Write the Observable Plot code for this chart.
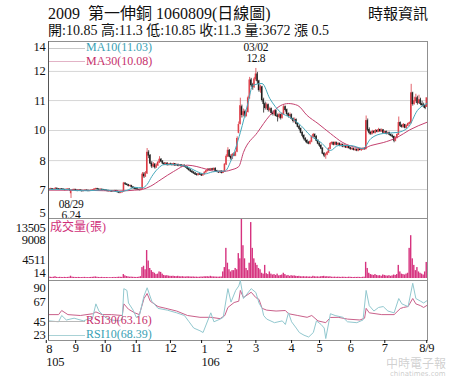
<!DOCTYPE html>
<html><head><meta charset="utf-8">
<script src="https://cdn.jsdelivr.net/npm/d3@7"></script>
<script src="https://cdn.jsdelivr.net/npm/@observablehq/plot@0.6"></script>
<style>
body{margin:0;background:#fff;}
#wrap{position:relative;width:474px;height:379px;overflow:hidden;background:#fff;font-family:'Liberation Serif','Noto Sans CJK TC',serif;color:#111;}
.abs{position:absolute;white-space:pre;}
.lg{position:absolute;height:0;border-top:1px solid;}
</style></head><body>
<div id="wrap">
<div class="abs" style="left:48px;top:6px;font-size:16px;line-height:16px;">2009  第一伸銅 1060809(日線圖)</div>
<div class="abs" style="left:368px;top:5px;font-size:15px;line-height:15px;font-family:'Noto Sans CJK TC',serif;">時報資訊</div>
<div class="abs" id="sub" style="left:48px;top:24px;font-size:14px;line-height:14px;"></div>
<div id="price" class="abs" style="left:0;top:41px"></div>
<div id="vol" class="abs" style="left:0;top:218px"></div>
<div id="rsi" class="abs" style="left:0;top:280px"></div>
<div class="lg" style="left:49px;top:48px;width:36px;border-color:#c8c8c8"></div>
<div class="lg" style="left:49px;top:61px;width:36px;border-color:#e2b3c6"></div>
<div class="abs" id="lgMA10" style="left:86px;top:41px;font-size:12px;line-height:12px;color:#3a9fb4"></div>
<div class="abs" id="lgMA30" style="left:86px;top:55px;font-size:12px;line-height:12px;color:#c6306c"></div>
<div class="abs" style="left:50px;top:221px;font-size:12px;line-height:12px;color:#d0307a">成交量(張)</div>
<div class="lg" style="left:49px;top:321px;width:36px;border-color:#b9b9b9"></div>
<div class="lg" style="left:49px;top:335px;width:36px;border-color:#a9d2d6"></div>
<div class="abs" id="lgR30" style="left:86px;top:314px;font-size:12px;line-height:12px;color:#c6306c"></div>
<div class="abs" id="lgR10" style="left:86px;top:328px;font-size:12px;line-height:12px;color:#3a9fb4"></div>
<div class="abs" style="left:48px;top:41px;width:0;height:299px;border-left:1px solid #555"></div>
<div class="abs" style="left:386px;top:357px;font-size:12px;line-height:12px;font-family:'Noto Sans CJK TC',sans-serif;color:rgba(150,150,150,0.45)">中時電子報</div>
<div class="abs" style="left:390px;top:371px;font-size:7px;line-height:7px;font-family:'DejaVu Sans',sans-serif;color:rgba(150,150,150,0.5)">chinatimes.com</div>
</div>
<script>
// ---------- daily candles (trading-day index 0 = 2016-08-09 ... 243 = 2017-08-09)
const open = [
6.68,6.70,6.72,6.68,6.70,6.74,6.72,6.69,6.71,6.70,
6.68,6.66,6.69,6.70,6.50,6.64,6.66,6.68,6.64,6.62,
6.65,6.63,6.60,6.62,6.64,6.63,6.61,6.62,6.64,6.66,
6.70,6.72,6.70,6.68,6.69,6.67,6.66,6.64,6.62,6.60,
6.61,6.58,6.60,6.62,6.59,6.55,6.52,6.54,6.58,7.00,
6.95,6.92,6.86,6.88,6.80,6.76,6.72,6.70,6.68,6.66,
6.70,7.45,7.35,7.50,8.55,8.40,8.00,7.85,7.95,7.80,
7.90,8.05,8.20,8.10,8.00,7.95,8.00,7.92,7.96,7.95,
7.92,7.98,7.90,7.94,7.88,7.92,7.86,7.90,7.84,7.80,
7.72,7.66,7.60,7.55,7.50,7.45,7.42,7.46,7.44,7.40,
7.45,7.55,7.62,7.70,7.66,7.72,7.68,7.74,7.62,7.58,
7.55,7.60,7.52,7.58,7.95,8.35,8.65,8.35,8.25,8.45,
8.40,8.60,9.55,10.00,10.85,10.45,10.60,10.40,10.60,11.30,
12.20,11.95,11.85,12.25,12.50,12.15,11.70,11.85,11.20,11.00,
10.80,10.95,10.70,10.75,10.55,10.50,10.65,10.40,10.35,10.45,
10.30,10.50,10.85,10.70,10.50,10.40,10.45,10.25,10.15,10.20,
10.00,9.85,9.75,9.55,9.40,9.25,9.15,9.05,9.00,9.10,
9.35,9.45,9.35,9.15,9.00,8.90,8.75,8.50,8.40,8.45,
8.55,8.75,9.00,9.05,8.95,9.05,8.95,9.00,8.90,8.95,
8.85,8.90,8.80,8.85,8.78,8.72,8.75,8.68,8.70,8.65,
8.72,8.68,8.70,8.75,8.72,10.15,9.70,9.55,9.50,9.60,
9.55,9.65,9.60,9.70,9.62,9.68,9.55,9.60,9.50,9.55,
9.45,9.40,9.35,9.15,9.30,9.45,10.05,9.90,9.85,9.95,
9.80,9.90,10.00,10.05,11.55,11.00,11.15,11.30,11.05,11.20,
11.00,10.95,10.90,10.85];
const close = [
6.70,6.72,6.68,6.70,6.74,6.72,6.69,6.71,6.70,6.68,
6.66,6.69,6.70,6.67,6.64,6.66,6.68,6.64,6.62,6.65,
6.63,6.60,6.62,6.64,6.63,6.61,6.62,6.64,6.66,6.70,
6.72,6.70,6.68,6.69,6.67,6.66,6.64,6.62,6.60,6.61,
6.58,6.60,6.62,6.59,6.55,6.52,6.54,6.56,7.00,6.95,
6.92,6.86,6.88,6.80,6.76,6.72,6.70,6.68,6.66,6.70,
7.45,7.35,7.50,8.55,8.40,8.00,7.85,7.95,7.80,7.90,
8.05,8.20,8.10,8.00,7.95,8.00,7.92,7.96,7.95,7.92,
7.98,7.90,7.94,7.88,7.92,7.86,7.90,7.84,7.80,7.72,
7.66,7.60,7.55,7.50,7.45,7.42,7.46,7.44,7.40,7.45,
7.55,7.62,7.70,7.66,7.72,7.68,7.74,7.62,7.58,7.55,
7.60,7.52,7.58,7.95,8.35,8.65,8.35,8.25,8.45,8.40,
8.55,9.25,9.95,10.90,10.45,10.60,10.40,10.55,11.30,12.20,
11.95,11.85,12.25,12.50,12.15,11.70,11.85,11.20,11.00,10.80,
10.95,10.70,10.75,10.55,10.50,10.65,10.40,10.35,10.45,10.30,
10.50,10.85,10.70,10.50,10.40,10.45,10.25,10.15,10.20,10.00,
9.85,9.75,9.55,9.40,9.25,9.15,9.05,9.00,9.10,9.35,
9.45,9.35,9.15,9.00,8.90,8.75,8.50,8.40,8.45,8.55,
8.75,9.00,9.05,8.95,9.05,8.95,9.00,8.90,8.95,8.85,
8.90,8.80,8.85,8.78,8.72,8.75,8.68,8.70,8.65,8.72,
8.68,8.70,8.75,8.72,10.15,9.70,9.55,9.50,9.60,9.55,
9.65,9.60,9.70,9.62,9.68,9.55,9.60,9.50,9.55,9.45,
9.40,9.35,9.15,9.30,9.45,10.05,9.90,9.85,9.95,9.80,
9.90,10.00,10.05,11.55,11.00,11.15,11.30,11.05,11.20,11.00,
10.95,10.90,10.80,11.30];
const high = [
6.74,6.76,6.74,6.72,6.78,6.76,6.73,6.74,6.74,6.72,
6.70,6.72,6.73,6.72,6.66,6.70,6.71,6.70,6.67,6.68,
6.68,6.66,6.65,6.67,6.67,6.66,6.65,6.67,6.69,6.73,
6.76,6.75,6.72,6.72,6.71,6.70,6.68,6.66,6.65,6.64,
6.64,6.63,6.65,6.65,6.62,6.58,6.57,6.60,7.05,7.02,
6.98,6.95,6.92,6.90,6.84,6.80,6.76,6.73,6.71,6.73,
7.55,7.55,7.60,8.76,8.65,8.45,8.10,8.05,8.00,7.98,
8.10,8.35,8.25,8.15,8.05,8.05,8.04,8.00,8.02,8.00,
8.02,8.00,7.98,7.97,7.95,7.95,7.93,7.93,7.88,7.84,
7.76,7.70,7.64,7.60,7.55,7.50,7.50,7.50,7.48,7.48,
7.58,7.66,7.75,7.74,7.76,7.76,7.78,7.78,7.66,7.62,
7.64,7.63,7.62,8.00,8.45,8.80,8.70,8.45,8.50,8.55,
8.62,9.35,10.10,11.30,10.95,10.75,10.70,10.65,11.40,12.35,
12.30,12.05,12.35,12.80,12.60,12.20,11.95,11.90,11.30,11.10,
11.05,11.00,10.85,10.80,10.65,10.70,10.70,10.50,10.55,10.50,
10.55,10.95,10.90,10.75,10.55,10.55,10.50,10.30,10.30,10.25,
10.05,9.92,9.80,9.60,9.45,9.30,9.20,9.12,9.15,9.40,
9.52,9.50,9.40,9.20,9.05,8.95,8.80,8.55,8.52,8.60,
8.80,9.05,9.10,9.08,9.10,9.08,9.05,9.04,9.00,8.98,
8.95,8.93,8.90,8.88,8.82,8.80,8.78,8.75,8.74,8.76,
8.76,8.74,8.80,8.80,10.40,10.25,9.80,9.62,9.68,9.66,
9.72,9.70,9.78,9.74,9.75,9.72,9.65,9.64,9.60,9.58,
9.50,9.45,9.38,9.35,9.50,10.35,10.10,9.98,10.02,9.98,
9.95,10.05,10.10,12.00,11.60,11.35,11.50,11.40,11.45,11.30,
11.15,11.05,10.95,11.30];
const low = [
6.65,6.68,6.66,6.66,6.68,6.70,6.66,6.67,6.68,6.64,
6.62,6.64,6.66,6.60,6.24,6.60,6.63,6.61,6.58,6.60,
6.60,6.57,6.58,6.60,6.60,6.58,6.58,6.60,6.62,6.64,
6.67,6.67,6.65,6.65,6.64,6.63,6.61,6.58,6.57,6.57,
6.55,6.55,6.57,6.56,6.52,6.48,6.48,6.51,6.56,6.90,
6.88,6.83,6.83,6.77,6.72,6.68,6.66,6.64,6.62,6.62,
6.68,7.25,7.30,7.45,8.25,7.95,7.75,7.80,7.72,7.76,
7.85,8.00,8.05,7.95,7.90,7.90,7.88,7.88,7.90,7.88,
7.88,7.86,7.87,7.84,7.85,7.82,7.83,7.80,7.76,7.68,
7.62,7.55,7.50,7.46,7.40,7.36,7.38,7.40,7.35,7.36,
7.43,7.52,7.58,7.62,7.62,7.64,7.65,7.58,7.54,7.50,
7.52,7.48,7.50,7.55,7.90,8.30,8.30,8.15,8.20,8.35,
8.35,8.55,9.50,9.95,10.30,10.35,10.30,10.35,10.55,11.25,
11.85,11.70,11.80,12.15,12.00,11.60,11.55,11.10,10.55,10.70,
10.70,10.60,10.60,10.45,10.40,10.40,10.35,10.10,10.25,10.20,
10.25,10.45,10.60,10.40,10.30,10.30,10.20,10.05,10.05,9.95,
9.80,9.65,9.50,9.30,9.15,9.05,8.98,8.95,8.95,9.05,
9.30,9.28,9.10,8.95,8.82,8.70,8.45,8.30,8.22,8.40,
8.50,8.70,8.92,8.90,8.90,8.90,8.90,8.85,8.85,8.80,
8.80,8.76,8.75,8.72,8.68,8.68,8.64,8.62,8.60,8.60,
8.64,8.62,8.66,8.68,8.70,9.60,9.45,9.42,9.45,9.50,
9.50,9.55,9.56,9.58,9.58,9.50,9.50,9.45,9.45,9.40,
9.35,9.28,9.05,9.10,9.25,9.42,9.82,9.78,9.80,9.75,
9.75,9.85,9.95,10.00,10.90,10.95,11.05,10.95,11.00,10.92,
10.85,10.80,10.72,10.85];
const volume = [
320,280,250,300,410,260,230,270,240,220,
260,230,250,280,520,300,260,240,220,250,
230,210,240,260,220,200,230,250,270,320,
360,280,240,230,260,220,210,230,200,190,
210,230,250,220,260,300,280,260,900,600,
450,380,300,320,280,260,240,250,300,420,
2500,2800,2000,6400,4000,2300,1800,1400,1200,900,
1000,1500,1400,1000,700,600,650,550,500,480,
520,450,420,500,400,380,420,360,340,400,
380,350,330,360,300,320,280,300,350,320,
400,380,420,350,500,380,360,340,320,300,
330,350,1500,2500,6900,3500,2000,1500,1800,1800,
2300,2000,5700,4500,13505,7500,4500,2300,1800,3500,
12800,6900,4500,3500,3000,2300,2000,1200,1000,3000,
1100,900,1500,1000,800,900,700,1000,600,700,
800,1200,900,600,700,500,650,550,600,500,
450,500,400,380,420,350,400,330,360,300,
500,400,350,380,320,400,450,500,380,420,
350,400,300,280,320,260,300,280,250,300,
280,260,240,300,280,250,230,260,240,270,
250,230,280,300,3700,2300,1200,900,800,700,
900,700,600,650,500,800,700,600,550,650,
500,600,800,700,900,3000,1500,1000,900,800,
1000,1200,6900,9800,4500,3000,1800,2500,1500,1200,
1000,800,1500,3672];

// ---------- moving averages
const ma10Idx = [0,10,17,25,35,45,50,55,60,63,66,70,74,80,86,90,95,100,105,110,113,117,123,128,131,137,142,149,155,162,168,175,181,186,194,202,207,215,224,231,237,243];
const ma10Val = [6.70,6.70,6.64,6.63,6.68,6.58,6.65,6.80,6.78,6.95,7.35,7.75,7.95,7.95,7.90,7.80,7.60,7.48,7.58,7.62,7.62,8.15,9.57,11.08,11.94,12.04,11.28,10.58,10.33,9.92,9.42,9.06,8.66,8.91,8.91,8.76,9.26,9.52,9.57,9.82,10.68,11.03];
const ma30Idx = [0,25,45,55,60,65,72,80,89,95,101,108,114,117,122,125,134,142,149,154,160,166,173,181,189,198,202,207,215,224,232,243];
const ma30Val = [6.66,6.65,6.62,6.66,6.70,6.85,7.20,7.60,7.92,7.85,7.72,7.60,7.62,7.68,7.85,8.56,9.57,10.43,10.93,11.03,10.93,10.43,10.02,9.52,9.06,8.81,8.76,8.91,9.06,9.32,9.70,10.08];

// ---------- RSI
const rsi30Idx = [0,6,8,12,20,28,30,34,40,47,48,51,55,58,61,63,65,70,75,82,89,97,104,110,113,115,119,122,123,125,130,133,135,137,140,146,152,154,160,166,169,173,178,181,186,192,200,203,204,206,214,222,226,228,231,234,236,239,241,243];
const rsi30Val = [53,53,57.6,53,52,54,56,53,53,52,65,59,55,53,71,76.6,68,62,60,57,52,50,50,48.5,52,61,66.5,68,80,72,78,72,70,60,58,57,57.6,54,52,50,52,46,44,49.8,50,48,47,49,60,55,53,53,59.8,61,62,71,65,63,61,63.16];
const rsi10Idx = [0,6,8,11,16,22,28,30,32,36,40,45,47,48,50,51,54,56,58,61,63,66,70,76,82,87,90,93,97,99,104,106,110,112,115,117,120,122,123,125,130,133,135,137,138,140,145,150,152,154,156,159,161,164,167,170,172,175,177,178,181,184,189,192,198,202,204,206,209,212,215,218,222,225,227,231,234,236,239,241,243];
const rsi10Val = [46,45,52,47,49,46,50,65,57,50,47,46,48,82,80,66,58,50,52,74,83,68,60,58,55,52,45,38,35,33,55,45,48,50,82,67,80,85,91,71,82,77.7,66,60,52,48,44,46,42,55,45,38,33,30,28,33,46,42,38,26.3,54,52,50,45,44,47,80,63,57,61,62,57,55,71,65,62,88,71,68,66,68.39];

// ---------- ticks / labels / annotations
const priceTickVals = [5.53,6.69,8.15,9.67,11.18,12.65,13.86];
const priceTickLabels = ["5","7","8","10","11","12","14"];
const volTicks = [13505,9008,4511,14];
const rsiTicks = [90,67,45,23];
const monthIdx = [0,17,36,56,78,100,116,133,156,174,194,216,243];
const monthLabels = ["8","9","10","11","12","1","2","3","4","5","6","7","8/9"];
const yearIdx = [0,100];
const yearLabels = ["105","106"];
const annIdx = [14,133];
const annDate = ["08/29","03/02"];
const annValue = [6.24,12.8];
const quote = {open:10.85, high:11.3, low:10.85, close:11.3, vol:3672, chg:0.5};

document.getElementById("sub").textContent =
  `開:${quote.open} 高:${quote.high} 低:${quote.low} 收:${quote.close} 量:${quote.vol} 漲 ${quote.chg}`;
document.getElementById("lgMA10").textContent = `MA10(${ma10Val[ma10Val.length-1].toFixed(2)})`;
document.getElementById("lgMA30").textContent = `MA30(${ma30Val[ma30Val.length-1].toFixed(2)})`;
document.getElementById("lgR30").textContent = `RSI30(${rsi30Val[rsi30Val.length-1].toFixed(2)})`;
document.getElementById("lgR10").textContent = `RSI10(${rsi10Val[rsi10Val.length-1].toFixed(2)})`;

const N = close.length;
const bars = close.map((c, i) => ({i, o: open[i], h: high[i], l: low[i], c, v: volume[i]}));
const ma10 = ma10Idx.map((i, k) => ({i, v: ma10Val[k]}));
const ma30 = ma30Idx.map((i, k) => ({i, v: ma30Val[k]}));
const r30 = rsi30Idx.map((i, k) => ({i, v: rsi30Val[k]}));
const r10 = rsi10Idx.map((i, k) => ({i, v: rsi10Val[k]}));
const ann = annIdx.map((i, k) => ({i, v: annValue[k], t: annDate[k] + "\n" + annValue[k]}));

const RED = "#dc3b45", BLK = "#1e1e1e", TEAL = "#45a9bc", MAG = "#c4416f", PINK = "#d6337f";
const up = d => d.c >= d.o;
const style = {fontFamily: "'Liberation Serif','Noto Sans CJK TC',serif", fontSize: "12.5px",
  background: "transparent", overflow: "visible", color: "#111", letterSpacing: "-0.3px"};
const base = {width: 474, marginLeft: 48, marginRight: 47, style};
const xDom = [-0.5, N - 0.5];
const fmtFrom = (vals, labels) => d => labels[vals.indexOf(d)];
const plain = d => String(d);

const price = Plot.plot({
  ...base, height: 177, marginTop: 0, marginBottom: 0,
  x: {domain: xDom, axis: null},
  y: {domain: [5.23, 14.16], label: null},
  marks: [
    Plot.ruleY(priceTickVals.slice(1, -1), {stroke: "#d6d6d6"}),
    Plot.frame({stroke: "#909090"}),
    Plot.axisY(priceTickVals, {tickSize: 0, tickPadding: 3, label: null, tickFormat: fmtFrom(priceTickVals, priceTickLabels)}),
    Plot.ruleX(bars, {x: "i", y1: "l", y2: "h", stroke: d => up(d) ? RED : BLK, strokeWidth: 0.8}),
    Plot.rect(bars, {x1: d => d.i - 0.42, x2: d => d.i + 0.42, y1: "o", y2: "c",
      fill: d => up(d) ? RED : BLK, insetTop: -0.4, insetBottom: -0.4}),
    Plot.line(ma30, {x: "i", y: "v", stroke: MAG, strokeWidth: 1, curve: "monotone-x"}),
    Plot.line(ma10, {x: "i", y: "v", stroke: TEAL, strokeWidth: 1, curve: "monotone-x"}),
    Plot.text([ann[1]], {x: "i", y: "v", text: "t", lineAnchor: "bottom", dy: -6, lineHeight: 1, fontSize: 11.5, fill: "#111"}),
    Plot.text([ann[0]], {x: "i", y: "v", text: "t", lineAnchor: "top", dy: 1, lineHeight: 1, fontSize: 11.5, fill: "#111"})
  ]
});
document.getElementById("price").append(price);

const vol = Plot.plot({
  ...base, height: 62, marginTop: 0, marginBottom: 0,
  x: {domain: xDom, axis: null},
  y: {domain: [-458, 13734], label: null},
  marks: [
    Plot.frame({stroke: "#909090"}),
    Plot.rectY(bars, {x1: d => d.i - 0.45, x2: d => d.i + 0.45, y: "v", fill: PINK}),
    Plot.axisY(volTicks.slice(0, 1), {tickSize: 0, tickPadding: 3, label: null, dy: 8, tickFormat: plain}),
    Plot.axisY(volTicks.slice(1, 3), {tickSize: 0, tickPadding: 3, label: null, dy: 1, tickFormat: plain}),
    Plot.axisY(volTicks.slice(3), {tickSize: 0, tickPadding: 3, label: null, dy: -5, tickFormat: plain})
  ]
});
document.getElementById("vol").append(vol);

const rsi = Plot.plot({
  ...base, height: 99, marginTop: 0, marginBottom: 39,
  x: {domain: xDom, label: null},
  y: {domain: [24.1, 91.1], label: null},
  marks: [
    Plot.frame({stroke: "#909090"}),
    Plot.line(r30, {x: "i", y: "v", stroke: "#c9608a", strokeWidth: 1}),
    Plot.line(r10, {x: "i", y: "v", stroke: "#92c8cf", strokeWidth: 1}),
    Plot.axisY(rsiTicks.slice(0, 1), {tickSize: 0, tickPadding: 3, label: null, dy: 6.5, tickFormat: plain}),
    Plot.axisY(rsiTicks.slice(1, 3), {tickSize: 0, tickPadding: 3, label: null, tickFormat: plain}),
    Plot.axisY(rsiTicks.slice(3), {tickSize: 0, tickPadding: 3, label: null, dy: -6, tickFormat: plain}),
    Plot.axisX(monthIdx.filter(d => !yearIdx.includes(d)), {tickSize: 3, tickPadding: 0, label: null,
      tickFormat: fmtFrom(monthIdx, monthLabels)}),
    Plot.axisX(yearIdx, {tickSize: 3, tickPadding: 0, dx: -3, label: null, textAnchor: "start", lineHeight: 1.05,
      tickFormat: d => monthLabels[monthIdx.indexOf(d)] + "\n" + yearLabels[yearIdx.indexOf(d)]})
  ]
});
document.getElementById("rsi").append(rsi);
</script>
</body></html>
